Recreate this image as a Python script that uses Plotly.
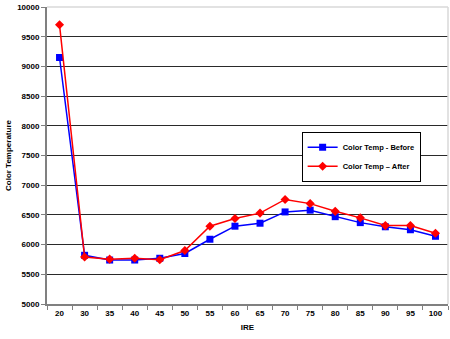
import plotly.graph_objects as go

ire = ["20", "30", "35", "40", "45", "50", "55", "60", "65", "70", "75", "80", "85", "90", "95", "100"]
before = [9150, 5820, 5740, 5740, 5770, 5850, 6090, 6310, 6360, 6550, 6580, 6470, 6370, 6300, 6250, 6140]
after = [9700, 5790, 5755, 5770, 5745, 5900, 6310, 6440, 6530, 6760, 6690, 6560, 6450, 6320, 6320, 6190]
y_ticks = [5000, 5500, 6000, 6500, 7000, 7500, 8000, 8500, 9000, 9500, 10000]
y_tick_labels = ["<b>%d</b>" % v for v in y_ticks]

font = "Liberation Sans, Arial, sans-serif"

fig = go.Figure()
fig.add_trace(go.Scatter(
    x=ire, y=before, name="<b>Color Temp - Before</b>", mode="lines+markers",
    line=dict(color="#0000ff", width=1.5),
    marker=dict(symbol="square", size=7, color="#0000ff"),
))
fig.add_trace(go.Scatter(
    x=ire, y=after, name="<b>Color Temp – After</b>", mode="lines+markers",
    line=dict(color="#ff0000", width=1.5),
    marker=dict(symbol="diamond", size=7, color="#ff0000"),
))

# light frame on top and right of the plot area
fig.add_shape(type="line", xref="paper", yref="paper", x0=0, x1=1, y0=1, y1=1,
              line=dict(color="#d8d8d8", width=1.5), layer="above")
fig.add_shape(type="line", xref="paper", yref="paper", x0=1, x1=1, y0=0, y1=1,
              line=dict(color="#d8d8d8", width=1.5), layer="above")

fig.update_layout(
    width=450, height=339,
    margin=dict(l=47, r=2, t=7, b=35),
    paper_bgcolor="white", plot_bgcolor="white",
    font=dict(family=font, size=8, color="black"),
    showlegend=True,
    legend=dict(
        x=0.635, y=0.58, xanchor="left", yanchor="top",
        bordercolor="black", borderwidth=1, bgcolor="white",
        font=dict(size=7.5, family=font), tracegroupgap=0,
        itemwidth=30,
    ),
    xaxis=dict(
        type="category", categoryorder="array", categoryarray=ire,
        showgrid=False, showline=True, linecolor="#808080", linewidth=2,
        ticks="outside", tickson="boundaries", ticklen=4, tickcolor="#808080",
        tickfont=dict(size=8, family=font), tickprefix="<b>", ticksuffix="</b>",
        title=dict(text="<b>IRE</b>", font=dict(size=8, family=font), standoff=8),
        range=[-0.5, len(ire) - 0.5],
    ),
    yaxis=dict(
        range=[5000, 10000], tickmode="array", tickvals=y_ticks, ticktext=y_tick_labels,
        showgrid=True, gridcolor="#2a2a2a", gridwidth=1,
        showline=True, linecolor="#808080", linewidth=2,
        ticks="outside", ticklen=4, tickcolor="#808080",
        tickfont=dict(size=8, family=font),
        title=dict(text="<b>Color Temperature</b>", font=dict(size=8, family=font), standoff=4),
        zeroline=False,
    ),
)

fig.write_html("out.html")
